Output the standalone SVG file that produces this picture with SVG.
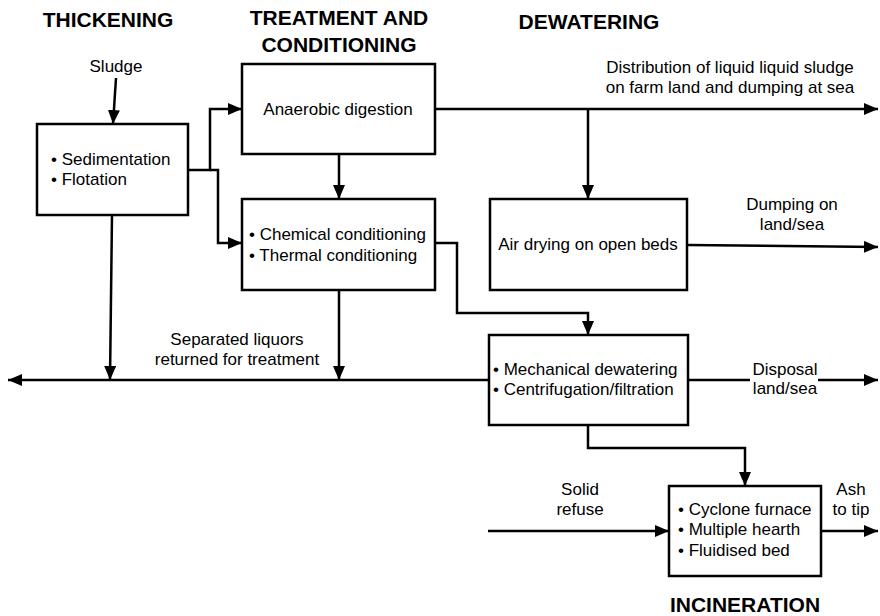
<svg xmlns="http://www.w3.org/2000/svg" width="880" height="616" viewBox="0 0 880 616">
  <defs>
    <marker id="arrow" markerUnits="userSpaceOnUse" markerWidth="14" markerHeight="12" refX="14" refY="6" orient="auto">
      <path d="M0,0 L14,6 L0,12 z" fill="#000"/>
    </marker>
    <style>
      .box { fill: #fff; stroke: #000; stroke-width: 2.5; }
      .wire { fill: none; stroke: #000; stroke-width: 2.5; }
      .arr { marker-end: url(#arrow); }
      .t { font-family: "Liberation Sans", Arial, sans-serif; font-size: 17px; fill: #000; }
      .mid { text-anchor: middle; }
      .head { font-family: "Liberation Sans", Arial, sans-serif; font-size: 21px; font-weight: bold; fill: #000; text-anchor: middle; }
    </style>
  </defs>

  <rect width="880" height="616" fill="#fff"/>

  <!-- stage headings -->
  <g id="headings">
    <text class="head" x="108" y="27">THICKENING</text>
    <text class="head" x="339" y="25">TREATMENT AND</text>
    <text class="head" x="339" y="52">CONDITIONING</text>
    <text class="head" x="589" y="29">DEWATERING</text>
    <text class="head" x="745" y="612">INCINERATION</text>
  </g>

  <!-- flow lines -->
  <g id="connectors">
    <line class="wire arr" x1="116" y1="78" x2="113" y2="124"/>
    <polyline class="wire arr" points="188,170 210,170 210,109 242,109"/>
    <polyline class="wire arr" points="210,170 218,170 218,243 242,243"/>
    <line class="wire arr" x1="339" y1="154" x2="339" y2="199"/>
    <line class="wire arr" x1="435" y1="109" x2="878" y2="109"/>
    <line class="wire arr" x1="588" y1="109" x2="588" y2="199"/>
    <line class="wire arr" x1="687" y1="245" x2="878" y2="247"/>
    <polyline class="wire arr" points="435,243 457,243 457,313 588,313 588,335"/>
    <line class="wire arr" x1="489" y1="380" x2="8" y2="380"/>
    <line class="wire arr" x1="112" y1="215" x2="110" y2="380"/>
    <line class="wire arr" x1="339" y1="290" x2="339" y2="380"/>
    <line class="wire arr" x1="688" y1="380" x2="878" y2="380"/>
    <polyline class="wire arr" points="588,425 588,448 745,448 745,486"/>
    <line class="wire arr" x1="488" y1="531" x2="669" y2="531"/>
    <line class="wire arr" x1="821" y1="531" x2="878" y2="531"/>
  </g>

  <!-- flow labels -->
  <g id="labels">
    <text class="t mid" x="116" y="72">Sludge</text>
    <text class="t mid" x="730" y="73">Distribution of liquid liquid sludge</text>
    <text class="t mid" x="730" y="93">on farm land and dumping at sea</text>
    <text class="t mid" x="792" y="210">Dumping on</text>
    <text class="t mid" x="792" y="230">land/sea</text>
    <text class="t mid" x="237" y="345">Separated liquors</text>
    <text class="t mid" x="237" y="365">returned for treatment</text>
    <rect x="750" y="366" width="68" height="28" fill="#fff"/>
    <text class="t mid" x="785" y="375">Disposal</text>
    <text class="t mid" x="785" y="394">land/sea</text>
    <text class="t mid" x="580" y="495">Solid</text>
    <text class="t mid" x="580" y="515">refuse</text>
    <text class="t mid" x="851" y="495">Ash</text>
    <text class="t mid" x="851" y="515">to tip</text>
  </g>

  <g id="thickening">
    <rect class="box" x="37" y="124" width="151" height="91"/>
    <text class="t" x="51" y="165">• Sedimentation</text>
    <text class="t" x="51" y="185">• Flotation</text>
  </g>

  <g id="digestion">
    <rect class="box" x="242" y="64" width="193" height="90"/>
    <text class="t mid" x="338" y="115">Anaerobic digestion</text>
  </g>

  <g id="conditioning">
    <rect class="box" x="242" y="199" width="193" height="91"/>
    <text class="t" x="249" y="240">• Chemical conditioning</text>
    <text class="t" x="249" y="261">• Thermal conditioning</text>
  </g>

  <g id="air-drying">
    <rect class="box" x="490" y="199" width="197" height="91"/>
    <text class="t mid" x="588" y="250">Air drying on open beds</text>
  </g>

  <g id="mechanical">
    <rect class="box" x="489" y="335" width="199" height="90"/>
    <text class="t" x="493" y="375">• Mechanical dewatering</text>
    <text class="t" x="493" y="395">• Centrifugation/filtration</text>
  </g>

  <g id="incinerator">
    <rect class="box" x="669" y="486" width="152" height="90"/>
    <text class="t" x="678" y="515">• Cyclone furnace</text>
    <text class="t" x="678" y="535">• Multiple hearth</text>
    <text class="t" x="678" y="556">• Fluidised bed</text>
  </g>
</svg>
